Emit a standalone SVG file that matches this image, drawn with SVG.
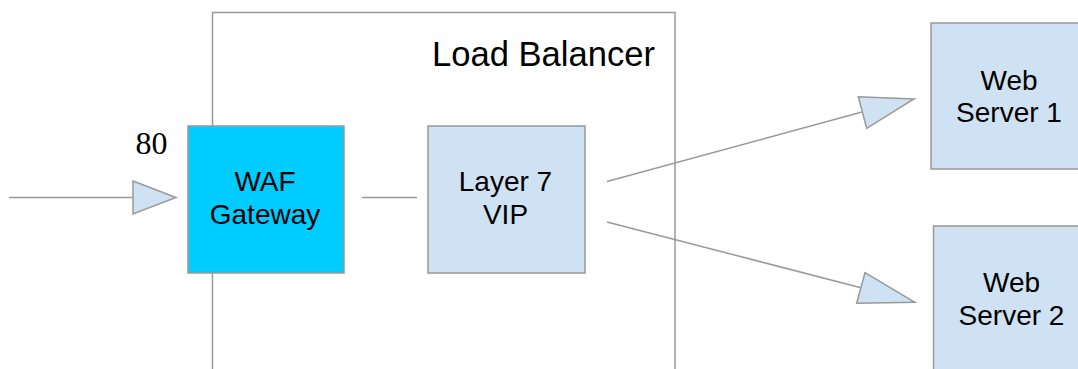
<svg xmlns="http://www.w3.org/2000/svg" width="1078" height="369" viewBox="0 0 1078 369">
<style>
.box{stroke:#999999;stroke-width:1.5}
.light{fill:#cfe2f3}
.waf{fill:#00ccff}
.lbl{font-family:"Liberation Sans",Arial,sans-serif;font-size:28px;fill:#000;text-anchor:middle}
.line{stroke:#999999;stroke-width:1.5;fill:none}
.head{fill:#cfe2f3;stroke:#999999;stroke-width:1.5;stroke-linejoin:miter}
</style>
<rect width="1078" height="369" fill="#ffffff"/>
<g id="load-balancer">
<path class="line" d="M212.5,369 V12.5 H675 V369"/>
<text class="lbl" x="543.5" y="66" style="font-size:34.6px">Load Balancer</text>
</g>
<g id="connectors">
<line class="line" x1="9" y1="197.5" x2="134" y2="197.5"/>
<polygon class="head" points="133,181 176,197.5 133,214"/>
<line class="line" x1="362" y1="197.5" x2="417" y2="197.5"/>
<line class="line" x1="607" y1="181.5" x2="862" y2="112"/>
<polygon class="head" points="914,99 858.3,96.7 866.7,128.3"/>
<line class="line" x1="607" y1="222" x2="862" y2="288"/>
<polygon class="head" points="915,302.3 865,272.7 856.7,303.3"/>
</g>
<g id="port-80">
<text x="151.5" y="154" style="font-family:'Liberation Serif','Times New Roman',serif;font-size:32px;fill:#000;text-anchor:middle">80</text>
</g>
<g id="waf-gateway">
<rect class="box waf" x="188" y="126" width="156" height="147"/>
<text class="lbl" x="265" y="191">WAF</text>
<text class="lbl" x="265" y="223.5">Gateway</text>
</g>
<g id="layer7-vip">
<rect class="box light" x="428" y="126" width="157" height="147"/>
<text class="lbl" x="505.5" y="191">Layer 7</text>
<text class="lbl" x="505.5" y="224">VIP</text>
</g>
<g id="web-server-1">
<rect class="box light" x="931" y="23" width="156" height="146"/>
<text class="lbl" x="1009" y="90">Web</text>
<text class="lbl" x="1009" y="122">Server 1</text>
</g>
<g id="web-server-2">
<rect class="box light" x="933.5" y="226" width="156" height="150"/>
<text class="lbl" x="1011.5" y="292">Web</text>
<text class="lbl" x="1011.5" y="325">Server 2</text>
</g>
</svg>
